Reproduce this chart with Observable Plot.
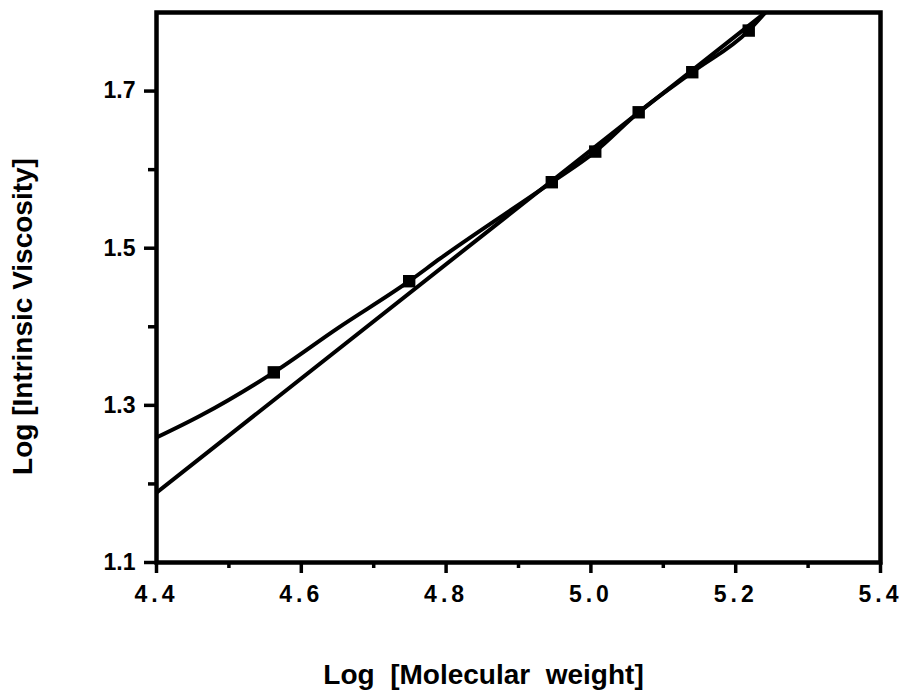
<!DOCTYPE html>
<html>
<head>
<meta charset="utf-8">
<script src="https://cdn.jsdelivr.net/npm/d3@7"></script>
<script src="https://cdn.jsdelivr.net/npm/@observablehq/plot@0.6"></script>
<style>
  html, body { margin: 0; padding: 0; background: #fff; }
  svg text { white-space: pre; }
  g[aria-label="x-axis tick label"] text { letter-spacing: 4px; }
</style>
</head>
<body>
<div id="chart"></div>
<script>
// Measured points (squares)
const logM = [4.562, 4.749, 4.946, 5.006, 5.066, 5.140, 5.218];
const logEta = [1.342, 1.458, 1.584, 1.623, 1.673, 1.724, 1.777];

// Smooth curve drawn through the data
const curveX = [4.40, 4.461, 4.562, 4.650, 4.749, 4.792, 4.946, 5.006, 5.066, 5.140, 5.218, 5.241];
const curveY = [1.259, 1.287, 1.342, 1.398, 1.458, 1.487, 1.584, 1.623, 1.673, 1.724, 1.777, 1.800];

// Straight fitted line (end points)
const fitX = [4.40, 5.241];
const fitY = [1.189, 1.800];

// Ticks
const xMajor = [4.4, 4.6, 4.8, 5.0, 5.2, 5.4];
const xMinor = [4.5, 4.7, 4.9, 5.1, 5.3];
const yMajor = [1.1, 1.3, 1.5, 1.7];
const yMinor = [1.2, 1.4, 1.6];

const xLabel = "Log  [Molecular  weight]";
const yLabel = "Log [Intrinsic Viscosity]";

const points = logM.map((x, i) => ({x, y: logEta[i]}));
const curve = curveX.map((x, i) => ({x, y: curveY[i]}));
const fit = fitX.map((x, i) => ({x, y: fitY[i]}));
const fmt = d3.format(".1f");

const chart = Plot.plot({
  width: 904,
  height: 692,
  marginLeft: 156,
  marginRight: 24,
  marginTop: 12,
  marginBottom: 130,
  x: {domain: [4.4, 5.4]},
  y: {domain: [1.1, 1.8]},
  style: {
    fontFamily: "'Liberation Sans', Arial, sans-serif",
    fontWeight: "bold",
    background: "#fff",
    color: "#000"
  },
  marks: [
    Plot.axisX({ticks: xMajor, tickSize: 11, tickPadding: 12, tickFormat: fmt, fontSize: 23, fontWeight: "bold", strokeWidth: 3.5, label: null}),
    Plot.axisX({ticks: xMinor, tickSize: 6, tickFormat: () => "", strokeWidth: 3.5, label: null}),
    Plot.axisY({ticks: yMajor, tickSize: 12, tickPadding: 9, tickFormat: fmt, fontSize: 23, fontWeight: "bold", strokeWidth: 3.5, label: null}),
    Plot.axisY({ticks: yMinor, tickSize: 8, tickFormat: () => "", strokeWidth: 3.5, label: null}),
    Plot.frame({stroke: "#000", strokeWidth: 4.5}),
    Plot.line(fit, {x: "x", y: "y", stroke: "#000", strokeWidth: 4, clip: true}),
    Plot.line(curve, {x: "x", y: "y", stroke: "#000", strokeWidth: 4, curve: "monotone-x", clip: true}),
    Plot.dot(points, {x: "x", y: "y", symbol: "square", r: 7, fill: "#000", stroke: "none"}),
    Plot.text([xLabel], {frameAnchor: "bottom", textAnchor: "middle", dx: -35, dy: 121, fontSize: 28, fontWeight: "bold", fill: "#000"}),
    Plot.text([yLabel], {frameAnchor: "left", textAnchor: "middle", rotate: -90, dx: -133, dy: 29, fontSize: 28, fontWeight: "bold", fill: "#000"})
  ]
});
document.getElementById("chart").appendChild(chart);
</script>
</body>
</html>
